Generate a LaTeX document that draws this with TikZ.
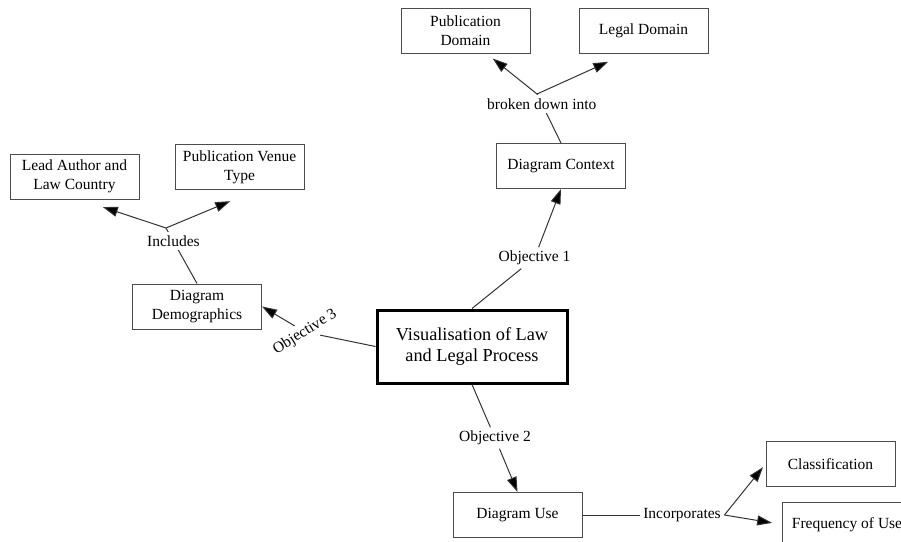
\documentclass[tikz,border=0pt]{standalone}
\usepackage{fontspec}
\setmainfont{Liberation Serif}
\usetikzlibrary{arrows.meta}

\begin{document}
\begin{tikzpicture}[x=1pt,y=-1pt,
		box/.style={draw=black!70,line width=1pt,fill=white,align=center,minimum width=129,minimum height=45,font=\fontsize{15.5}{19}\selectfont},
		lbl/.style={fill=white,inner sep=3.5pt,font=\fontsize{15.5}{19}\selectfont},
		link/.style={draw=black!80,line width=1pt},
		arr/.style={link,-{Triangle[length=15pt 0,width=10pt 0,fill=black]}}]
		\useasboundingbox (0,0) rectangle (901,541);
		\node [box,line width=3pt,draw=black,minimum width=190,minimum height=73,font=\fontsize{18.3}{21}\selectfont] (main) at (472,346.5) {Visualisation of Law\\and Legal Process};
		\node [box] (ctx) at (561,166) {Diagram Context};
		\node [box] (pub) at (465.5,30.5) {Publication\\Domain};
		\node [box] (legal) at (643.5,30.5) {Legal Domain};
		\node [box] (demog) at (197,306.5) {Diagram\\Demographics};
		\node [box] (lead) at (74.5,176.5) {Lead Author and\\Law Country};
		\node [box] (venue) at (239.5,167) {Publication Venue\\Type};
		\node [box] (use) at (517.5,515) {Diagram Use};
		\node [box] (class) at (830.5,464) {Classification};
		\node [box] (freq) at (847,524.5) {Frequency of Use};
		\node [lbl] (obj1) at (534.5,258) {Objective 1};
		\node [lbl] (obj2) at (495,438) {Objective 2};
		\node [lbl,rotate=32] (obj3) at (305,332) {Objective 3};
		\node [lbl] (inc) at (682,515) {Incorporates};
		\coordinate (bdj) at (537,94);
		\coordinate (incj) at (166,228);
		\draw [link] (main.north) -- (obj1);
		\draw [arr] (obj1) -- (ctx.south);
		\draw [link] (ctx.north) -- node (bdi) [lbl,pos=0.8] {broken down into} (bdj);
		\draw [arr,shorten >=8pt] (bdj) -- ([xshift=21pt]pub.south);
		\draw [arr,shorten >=20pt] (bdj) -- ([xshift=-17pt]legal.south);
		\draw [link] (main.west) -- (obj3);
		\draw [arr] (obj3) -- (demog.east);
		\draw [link] (demog.north) -- node (incl) [lbl,pos=0.76] {Includes} (incj);
		\draw [arr,shorten >=24pt] (incj) -- ([xshift=5.5pt]lead.south);
		\draw [arr,shorten >=29pt] (incj) -- ([xshift=17.5pt]venue.south);
		\draw [link] (main.south) -- (obj2);
		\draw [arr] (obj2) -- (use.north);
		\draw [link] (use.east) -- (inc);
		\draw [arr,shorten >=4pt] (inc.east) -- (class.west);
		\draw [arr,shorten >=10pt] (inc.east) -- (freq.west);
	\end{tikzpicture}
\end{document}
